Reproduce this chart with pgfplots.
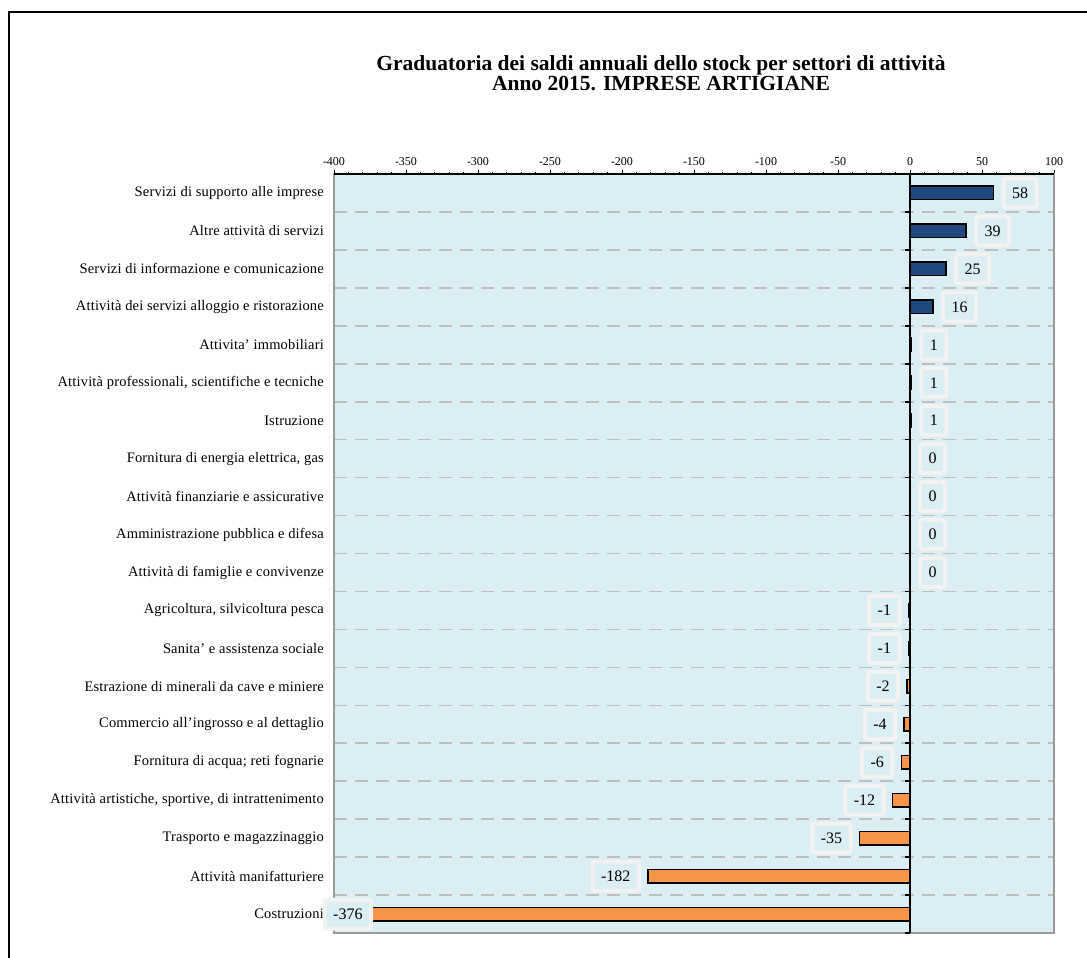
\documentclass[border=0pt]{standalone}
\usepackage{fontspec}
\setmainfont{Liberation Serif}
\usepackage{pgfplots}
\pgfplotsset{compat=1.18}
\definecolor{bgblue}{HTML}{DAEEF3}
\definecolor{barblue}{HTML}{1F497D}
\definecolor{barorange}{HTML}{F79646}
\definecolor{boxgray}{HTML}{F2F2F2}
\definecolor{gridgray}{HTML}{BFBFBF}
\definecolor{bordergray}{HTML}{9A9A9A}
\begin{document}
\begin{tikzpicture}[x=1pt,y=1pt]
\useasboundingbox (0,0) rectangle (1087,958);
\draw[line width=1.6pt] (9,-5) -- (9,946) -- (1095,946);
\node[anchor=base, font=\fontsize{21.5}{21}\selectfont\bfseries] at (661,887)
  {Graduatoria dei saldi annuali dello stock per settori di attività};
\node[anchor=base, font=\fontsize{21.5}{21}\selectfont\bfseries] at (661,867)
  {Anno 2015. IMPRESE ARTIGIANE};
\begin{axis}[
  at={(334pt,25pt)}, anchor=south west,
  scale only axis, width=720pt, height=759pt,
  xmin=-400, xmax=100, ymin=-0.5, ymax=19.5, y dir=reverse,
  clip=false,
  axis background/.style={fill=bgblue},
  axis line style={draw=bordergray, line width=1.6pt},
  xtick={-400,-350,...,100},
  xticklabels={-400,-350,-300,-250,-200,-150,-100,-50,0,50,100},
  xtick pos=right, xticklabel pos=right,
  minor x tick num=4,
  tick align=outside,
  major tick length=4pt, minor tick length=2pt,
  xtick style={black, line width=1pt},
  x tick label style={font=\fontsize{12}{14}\selectfont, yshift=1pt},
  ytick={0,...,19},
  yticklabels={
    Servizi di supporto alle imprese,
    Altre attività di servizi,
    Servizi di informazione e comunicazione,
    Attività dei servizi alloggio e ristorazione,
    Attivita' immobiliari,
    {Attività professionali, scientifiche e tecniche},
    Istruzione,
    {Fornitura di energia elettrica, gas},
    Attività finanziarie e assicurative,
    Amministrazione pubblica e difesa,
    Attività di famiglie e convivenze,
    {Agricoltura, silvicoltura pesca},
    Sanita' e assistenza sociale,
    Estrazione di minerali da cave e miniere,
    Commercio all'ingrosso e al dettaglio,
    Fornitura di acqua; reti fognarie,
    {Attività artistiche, sportive, di intrattenimento},
    Trasporto e magazzinaggio,
    Attività manifatturiere,
    Costruzioni},
  minor ytick={0.5,1.5,...,18.5},
  ytick style={draw=none},
  minor y tick style={draw=none},
  yminorgrids=true,
  minor grid style={draw=gridgray, line width=1.6pt, dash pattern=on 13pt off 8pt},
  y tick label style={font=\fontsize{14.5}{16}\selectfont\addfontfeature{LetterSpace=1.2}, anchor=east, inner sep=0pt, xshift=-6pt},
  xbar, bar width=13.5pt, bar shift=0pt,
  every node near coord/.style={font=\fontsize{16}{18}\selectfont, draw=boxgray, line width=4pt,
     fill=bgblue, inner xsep=8.5pt, inner ysep=0pt, minimum height=29pt, rounded corners=2pt, text=black},
]
\addplot[fill=barblue, draw=black, line width=1.5pt,
  nodes near coords={\pgfmathprintnumber[assume math mode=true]{\pgfplotspointmeta}},
  nodes near coords style={anchor=west, xshift=8pt}]
  coordinates {(58,0) (39,1) (25,2) (16,3) (1,4) (1,5) (1,6) (0,7) (0,8) (0,9) (0,10)};
\addplot[fill=barorange, draw=black, line width=1.5pt,
  nodes near coords={\pgfmathprintnumber[assume math mode=true]{\pgfplotspointmeta}},
  nodes near coords style={anchor=east, xshift=-7pt}]
  coordinates {(-1,11) (-1,12) (-2,13) (-4,14) (-6,15) (-12,16) (-35,17) (-182,18)};
\addplot[fill=barorange, draw=black, line width=1.5pt,
  nodes near coords={\pgfmathprintnumber[assume math mode=true]{\pgfplotspointmeta}},
  nodes near coords style={anchor=east, xshift=4.5pt}]
  coordinates {(-376,19)};
\draw[black, line width=2.4pt] (axis cs:-400,-0.5) -- (axis cs:100,-0.5);
\draw[black, line width=2pt] (axis cs:0,-0.5) -- (axis cs:0,19.5);
\pgfplotsinvokeforeach{-0.5,0.5,...,19.5}{\draw[black, line width=1.6pt] (axis cs:0,#1) -- ([xshift=-5pt]axis cs:0,#1);}
\end{axis}
\end{tikzpicture}
\end{document}
